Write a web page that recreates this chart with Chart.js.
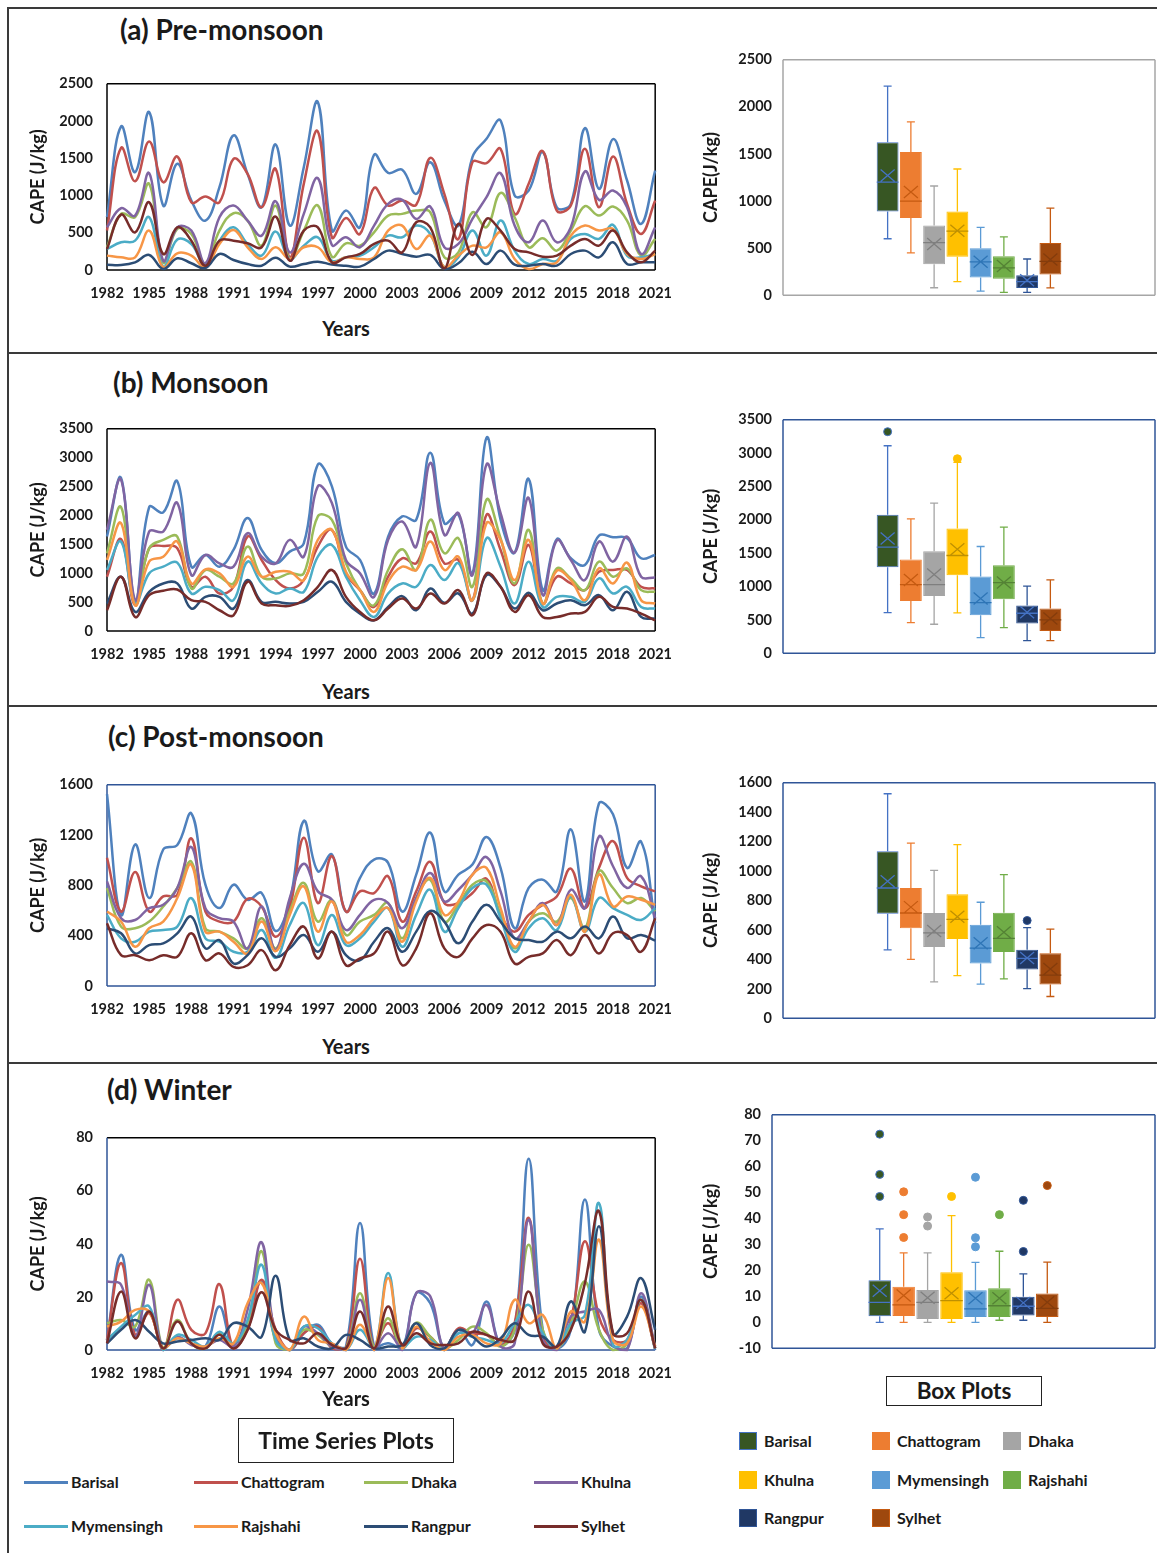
<!DOCTYPE html>
<html>
<head>
<meta charset="utf-8">
<script src="https://cdn.jsdelivr.net/npm/chart.js@4.4.1/dist/chart.umd.min.js"></script>
<style>
  body { margin: 0; background: #fff; }
  #page { position: relative; width: 1157px; height: 1553px; overflow: hidden; background: #fff;
          font-family: Lato, "Open Sans", sans-serif; font-weight: bold; color: #1a1a1a; }
  .abs { position: absolute; white-space: nowrap; }
  .rule { position: absolute; background: #3a3a3a; }
  .keybox { position: absolute; border: 1.5px solid #222; text-align: center; box-sizing: border-box; }
</style>
</head>
<body>
<div id="page"></div>
<script>
// Stations, in drawing / legend order
const stations = ['Barisal', 'Chattogram', 'Dhaka', 'Khulna', 'Mymensingh', 'Rajshahi', 'Rangpur', 'Sylhet'];
const years = ['1982','1983','1984','1985','1986','1987','1988','1989','1990','1991',
               '1992','1993','1994','1995','1996','1997','1998','1999','2000','2001',
               '2002','2003','2004','2005','2006','2007','2008','2009','2010','2011',
               '2012','2013','2014','2015','2016','2017','2018','2019','2020','2021'];

const lineColors = ['#4F81BD', '#C0504D', '#9BBB59', '#8064A2', '#4BACC6', '#F79646', '#2C4D75', '#772C2A'];
const boxFill = ['#375623', '#ED7D31', '#A5A5A5', '#FFC000', '#5B9BD5', '#70AD47', '#203864', '#9E480E'];
const boxEdge = ['#4472C4', '#ED7D31', '#A5A5A5', '#FFC000', '#5B9BD5', '#70AD47', '#2F5597', '#C55A11'];
const boxMark = ['#4472C4', '#C55A11', '#7F7F7F', '#BF9000', '#2E75B6', '#548235', '#4472C4', '#843C0C'];

// CAPE (J/kg) time series, one row per station (same order as `stations`)
const capePre = [
  [710,1926,1313,2119,865,1425,932,663,1111,1805, 1290,842,1684,596,1380,2253,529,797,573,1546, 1304,1344,1021,1447,932,596,1514,1761,2007,999, 1066,1581,842,887,1904,1089,1756,1201,618,1335],
  [530,1640,1192,1725,1178,1523,909,986,909,1492, 1290,842,1357,170,1156,1859,439,699,484,1102, 865,932,875,1505,1021,417,1447,1434,1626,753, 1156,1595,797,865,1626,842,1523,887,484,932],
  [305,753,708,1156,100,551,484,80,529,762, 663,327,865,148,529,865,179,358,327,506, 730,753,797,775,170,237,775,573,1035,708, 305,426,260,529,856,730,851,663,193,417],
  [573,829,730,1299,125,573,529,90,708,865, 663,461,923,237,753,1232,336,439,305,596, 887,941,685,851,305,349,685,977,1299,596, 372,663,372,573,1322,941,1066,842,215,573],
  [282,372,394,708,45,408,349,58,394,573, 349,193,515,148,327,439,125,170,193,305, 461,439,596,484,36,170,529,193,663,260, 80,148,125,417,484,417,605,193,170,215],
  [193,170,170,529,36,224,193,36,349,538, 305,148,305,148,305,305,103,170,148,170, 529,596,282,461,36,193,327,305,506,148, 13,80,103,461,596,529,551,215,148,215],
  [72,67,103,202,13,157,90,27,215,134, 80,58,166,45,80,112,72,58,45,148, 260,215,179,202,13,90,246,80,260,72, 58,80,58,215,260,170,372,80,103,103],
  [282,744,506,909,215,573,394,58,394,394, 358,305,717,125,529,573,103,170,215,349, 394,237,641,573,22,618,202,685,529,282, 237,179,193,327,417,327,529,237,103,260]
];
const capeMon = [
  [1634,2648,500,2144,2051,2590,1113,1315,1113,1402, 1953,1402,1171,1373,1518,2880,2503,1460,1229,649, 1634,1982,1924,3083,1866,2011,997,3344,1924,1356, 2631,707,1588,1258,1142,1652,1623,1605,1258,1316],
  [939,1588,446,1431,1472,1431,765,939,649,765, 1634,1229,881,736,881,1460,1750,997,707,417, 939,1258,1171,1721,1171,1229,533,2011,1402,794, 1489,475,939,823,707,1026,1055,1055,765,736],
  [1344,2144,504,1431,1576,1634,736,1055,939,823, 1460,939,910,997,997,1982,1924,1171,707,446, 1055,1414,1055,1924,1344,1605,765,2272,1605,823, 1750,475,1084,910,707,1200,939,1084,707,678],
  [1750,2619,533,1721,1721,2214,968,1315,1171,1113, 1692,1286,1171,1576,1286,2503,2214,1229,997,591, 1576,1895,1460,2909,1663,2040,968,2880,2040,1356, 2301,620,1565,1229,881,1547,1200,1634,939,927],
  [1055,1547,475,997,1113,1182,649,765,707,533, 1200,823,649,736,678,1286,1489,939,533,243, 649,823,765,1142,881,1171,533,1605,1113,475, 1200,417,591,591,504,910,649,765,417,388],
  [1229,1866,446,1200,1286,1547,823,1066,997,765, 1286,939,1026,1026,881,1576,1750,1026,707,330, 852,1113,1055,1547,1055,1286,533,1866,1576,881, 1576,475,1043,881,533,1084,823,1182,533,475],
  [475,939,330,678,823,823,388,591,591,388, 881,504,504,475,504,678,852,504,301,185, 417,603,359,736,487,649,301,968,765,388, 661,359,475,533,446,620,359,678,243,214],
  [359,939,243,620,695,719,533,504,359,272, 852,475,446,435,533,765,1055,591,330,185, 388,562,388,649,475,707,272,997,765,330, 620,243,243,301,330,591,417,388,301,185]
];
const capePost = [
  [1525,565,1125,699,1085,1120,1371,805,619,805, 685,739,437,672,1312,912,1045,592,859,1005, 979,592,885,1219,752,885,965,1184,939,459, 779,845,752,1245,672,1451,1365,939,1147,500],
  [1019,592,907,592,712,725,1173,592,512,512, 693,632,392,619,1179,659,1032,592,752,739, 872,512,752,987,659,659,739,853,565,432, 565,645,712,933,619,939,1152,859,792,752],
  [779,472,459,512,632,779,987,459,432,379, 299,539,299,592,819,512,685,405,512,565, 659,379,699,845,512,645,805,832,565,299, 512,579,512,699,459,912,779,659,699,592],
  [832,539,525,619,645,779,1104,619,539,512, 299,632,285,699,971,752,685,445,565,685, 659,459,699,899,672,765,885,1024,752,379, 512,659,485,765,619,1187,952,779,872,539],
  [565,379,352,432,445,472,699,379,352,272, 272,445,224,485,659,325,565,325,379,512, 619,312,565,765,432,619,779,805,539,272, 459,539,445,712,432,699,619,565,525,619],
  [592,512,312,459,512,699,965,432,432,352, 259,512,277,565,792,432,672,352,405,539, 619,352,672,859,565,672,885,939,619,312, 512,645,485,725,432,885,632,712,685,645],
  [459,419,259,325,339,419,552,299,365,179, 245,379,232,299,405,272,432,245,205,352, 459,272,432,597,512,339,512,645,512,379, 365,352,432,379,472,379,552,379,405,360],
  [499,245,245,205,245,232,419,205,259,152, 165,285,125,325,472,219,432,165,219,259, 432,165,299,579,299,232,379,485,432,179, 232,259,365,245,405,259,419,405,272,539]
];
const capeWin = [
  [3.8,35.9,7.6,14.5,0.6,4.4,2.5,1.3,16.4,0.6, 10.1,26,3.8,0,6.3,9.5,2.5,1.3,47.9,1.3, 2.5,0.6,21.4,17.6,0.6,7.6,1.9,18.3,1.9,7.6, 72.1,7.6,0.6,7.6,56.7,7.6,1.3,0.6,20.2,0],
  [3.8,32.8,5.7,13.9,0,18.9,7.6,6.3,24.8,0.6, 7.6,26.5,7.6,0,6.3,8.8,0.6,0.6,34.4,0.6, 10.1,0.6,8.2,5,0.6,8.2,6.3,5.7,1.9,10.1, 49.8,5,0.6,11.3,41,12.6,3.8,3.8,17.6,0.6],
  [10.1,11.3,8.8,26.5,0.6,11.3,2.5,0.6,6.3,2.5, 10.1,37.2,2.5,0,7.6,5.7,1.3,0.6,21.4,1.3, 12,0.6,10.3,5,0.6,3.8,8.8,6.3,1.3,7.6, 39.7,7.6,0.6,10.1,25.8,7.6,0,2.5,18.9,0.6],
  [25.8,24.6,5,24.6,0,5,1.9,1.3,3.8,1.3, 15.1,40.6,5,0,8.8,6.3,1.3,0,18.9,0, 6.3,0,21.4,20.2,0,6.3,6.3,17,1.3,2.5, 49.1,3.8,0,12.6,14.5,15.1,1.9,0,21.4,1.3],
  [3.8,8.8,13.2,16.4,0,5.7,3.8,1.3,6.9,2.5, 11.3,32.1,3.8,0,8.8,8.2,2.5,0,7.6,0, 29,0.6,5,3.8,0,6.3,5,3.8,2.5,10.1, 17,6.3,0.6,10.1,13.2,55.4,1.9,3.8,18.9,0.6],
  [8.8,10.7,15.1,14.5,0.6,4.4,2.5,1.3,4.4,2.5, 17.6,25.2,6.3,0,12.6,3.8,2.5,0,9.5,0, 27.1,0.6,8.8,3.2,0,5,5.7,2.5,2.5,18.9, 10.1,13.2,0.6,14.5,10.7,41.6,3.8,2.5,16.4,1.3],
  [2.5,7.6,11.3,6.9,2.5,3.2,3.8,4.4,3.8,10.1, 8.8,5,28,3.8,4.4,1.3,0.6,5.7,3.8,0.6, 1.3,1.9,10.1,1.9,0.6,7.6,5,1.3,4.4,10.1, 5.7,5,1.3,18.3,6.9,46.6,6.3,12.6,27.1,7.6],
  [2.5,22,4.4,14.5,0.6,10.7,2.5,0.6,5.7,0.6, 7.6,21.8,7.6,3.8,2.5,6.3,1.9,0.6,14.5,0.6, 16.4,1.9,6.3,2.5,1.9,2.5,6.9,5.7,3.8,3.8, 22,2.5,1.3,7.6,25.2,52.3,6.3,6.3,18.9,0.6]
];

// Box plot statistics per station: [min, q1, median, q3, max, mean]
const boxPre = [
  [600, 890, 1200, 1625, 2220, 1270], [450, 820, 1000, 1520, 1840, 1095],
  [80, 330, 560, 740, 1160, 545],     [145, 410, 680, 890, 1340, 685],
  [45, 190, 355, 500, 720, 355],      [30, 175, 290, 415, 620, 310],
  [30, 78, 145, 212, 385, 160],       [78, 222, 360, 556, 925, 380]
];
const outPre = [[], [], [], [], [], [], [], []];
const boxMon = [
  [610, 1290, 1590, 2075, 3110, 1720], [460, 785, 1030, 1405, 2015, 1100],
  [435, 860, 1030, 1530, 2250, 1180],  [605, 1170, 1465, 1870, 2860, 1560],
  [235, 570, 760, 1150, 1600, 820],    [385, 810, 1060, 1320, 1890, 1060],
  [190, 445, 600, 715, 1005, 615],     [190, 335, 500, 670, 1100, 520]
];
const outMon = [[3320], [], [], [2915], [], [], [], []];
const boxPost = [
  [465, 710, 885, 1135, 1525, 930], [400, 612, 715, 885, 1190, 755],
  [248, 484, 580, 715, 1005, 593],  [290, 538, 672, 843, 1180, 690],
  [232, 372, 477, 636, 788, 510],   [268, 450, 543, 716, 976, 584],
  [202, 332, 407, 466, 616, 410],   [148, 230, 293, 441, 605, 335]
];
const outPost = [[], [], [], [], [], [], [664], []];
const boxWin = [
  [0, 2.3, 7.7, 16.2, 36, 12.2],   [0, 2.4, 6.7, 13.7, 26.8, 10.3],
  [0, 1.3, 7.7, 12.5, 26.8, 9.5],  [0, 1.3, 8.4, 19.3, 41.1, 11.2],
  [0, 2.1, 5.2, 12.4, 23.1, 9.3],  [0.8, 2.1, 6.4, 13.1, 27.4, 9.3],
  [0.8, 2.6, 6.2, 9.9, 18.7, 7.5], [0, 2.1, 5.4, 11.1, 23.2, 7.7]
];
const outWin = [[48.5, 57, 72.5], [32.7, 41.5, 50.3], [37.1, 40.6], [48.5], [29.1, 32.6, 55.9], [41.5], [27.3, 47], [52.7]];

Chart.defaults.font.family = 'Lato, "Open Sans", sans-serif';
Chart.defaults.font.weight = 'bold';
Chart.defaults.color = '#1a1a1a';

const page = document.getElementById('page');

function addDiv(cls, css, text) {
  const d = document.createElement('div');
  d.className = cls;
  Object.assign(d.style, css);
  if (text !== undefined) d.textContent = text;
  page.appendChild(d);
  return d;
}
// text with its vertical centre at y
function addText(text, x, y, size) {
  return addDiv('abs', { left: x + 'px', top: (y - size * 0.6) + 'px', fontSize: size + 'px', lineHeight: (size * 1.2) + 'px' }, text);
}
function addCentred(text, cx, y, size) {
  return addDiv('abs', { left: (cx - 100) + 'px', width: '200px', textAlign: 'center',
                         top: (y - size * 0.6) + 'px', fontSize: size + 'px', lineHeight: (size * 1.2) + 'px' }, text);
}
function makeCanvas(left, top, w, h) {
  const holder = addDiv('abs', { left: left + 'px', top: top + 'px', width: w + 'px', height: h + 'px' });
  const cv = document.createElement('canvas');
  cv.width = w; cv.height = h;
  cv.style.width = w + 'px'; cv.style.height = h + 'px';
  holder.appendChild(cv);
  return cv;
}

// border round the plot area, one colour per side
const plotFrame = {
  id: 'plotFrame',
  beforeDatasetsDraw(chart, args, opts) {
    const { left, top, right, bottom } = chart.chartArea;
    const ctx = chart.ctx;
    const c = opts.colors;
    const sides = [[left, top, right, top, c[0]], [right, top, right, bottom, c[1]],
                   [left, bottom, right, bottom, c[2]], [left, top, left, bottom, c[3]]];
    ctx.save();
    ctx.lineWidth = 1.5;
    sides.forEach(([x1, y1, x2, y2, col]) => {
      ctx.strokeStyle = col;
      ctx.beginPath(); ctx.moveTo(x1, y1); ctx.lineTo(x2, y2); ctx.stroke();
    });
    ctx.restore();
  }
};

// whiskers, median, mean cross and outliers on top of the floating bars
const boxParts = {
  id: 'boxParts',
  afterDatasetsDraw(chart, args, opts) {
    const ctx = chart.ctx;
    const y = chart.scales.y;
    opts.stats.forEach((s, i) => {
      const bar = chart.getDatasetMeta(i).data[0];
      const x = bar.x, half = bar.width / 2;
      const py = v => y.getPixelForValue(v);
      ctx.save();
      ctx.lineWidth = 1.3;
      ctx.strokeStyle = boxEdge[i];
      ctx.beginPath();
      ctx.moveTo(x, py(s[3])); ctx.lineTo(x, py(s[4]));
      ctx.moveTo(x - 4, py(s[4])); ctx.lineTo(x + 4, py(s[4]));
      ctx.moveTo(x, py(s[1])); ctx.lineTo(x, py(s[0]));
      ctx.moveTo(x - 4, py(s[0])); ctx.lineTo(x + 4, py(s[0]));
      ctx.stroke();
      ctx.strokeStyle = boxMark[i];
      ctx.beginPath();
      ctx.moveTo(x - half, py(s[2])); ctx.lineTo(x + half, py(s[2]));
      const my = py(s[5]);
      ctx.moveTo(x - 7, my - 6); ctx.lineTo(x + 7, my + 6);
      ctx.moveTo(x - 7, my + 6); ctx.lineTo(x + 7, my - 6);
      ctx.stroke();
      ctx.fillStyle = boxFill[i];
      ctx.strokeStyle = boxEdge[i];
      ctx.lineWidth = 1;
      opts.outliers[i].forEach(v => {
        ctx.beginPath(); ctx.arc(x, py(v), 4, 0, Math.PI * 2); ctx.fill(); ctx.stroke();
      });
      ctx.restore();
    });
  }
};

const panels = [
  { title: '(a) Pre-monsoon', tx: 120, ty: 30, series: capePre, lineMax: 2500, lineStep: 500, lineTop: 84, lineBottom: 270, yearsY: 328,
    lineFrame: ['#000', '#000', '#000', '#000'],
    box: boxPre, out: outPre, boxMin: 0, boxMax: 2500, boxStep: 500, boxTop: 60, boxBottom: 295, boxLeft: 783,
    boxLabel: 'CAPE(J/kg)', boxFrame: '#A6A6A6' },
  { title: '(b) Monsoon', tx: 113, ty: 383, series: capeMon, lineMax: 3500, lineStep: 500, lineTop: 429, lineBottom: 631, yearsY: 691,
    lineFrame: ['#000', '#000', '#000', '#000'],
    box: boxMon, out: outMon, boxMin: 0, boxMax: 3500, boxStep: 500, boxTop: 420, boxBottom: 653, boxLeft: 783,
    boxLabel: 'CAPE (J/kg)', boxFrame: '#2F5597' },
  { title: '(c) Post-monsoon', tx: 108, ty: 737, series: capePost, lineMax: 1600, lineStep: 400, lineTop: 785, lineBottom: 986, yearsY: 1046,
    lineFrame: ['#2F5597', '#2F5597', '#2F5597', '#2F5597'],
    box: boxPost, out: outPost, boxMin: 0, boxMax: 1600, boxStep: 200, boxTop: 783, boxBottom: 1018, boxLeft: 783,
    boxLabel: 'CAPE (J/kg)', boxFrame: '#2F5597' },
  { title: '(d) Winter', tx: 107, ty: 1090, series: capeWin, lineMax: 80, lineStep: 20, lineTop: 1138, lineBottom: 1350, yearsY: 1398,
    lineFrame: ['#000', '#000', '#2F5597', '#2F5597'],
    box: boxWin, out: outWin, boxMin: -10, boxMax: 80, boxStep: 10, boxTop: 1115, boxBottom: 1348, boxLeft: 772,
    boxLabel: 'CAPE (J/kg)', boxFrame: '#2F5597' }
];

// the vertical axis keeps half a label plus its tick padding above and below the plot area
const LINE_PAD = 14, BOX_PAD = 11, TICK_FONT = 14.5;
const labelHalf = TICK_FONT * 1.2 / 2;

function lineChart(p) {
  const L = 20, W = 667, top = Math.round(p.lineTop - labelHalf - LINE_PAD), bottom = p.lineBottom + 45;
  const cv = makeCanvas(L, top, W, bottom - top);
  new Chart(cv, {
    type: 'line',
    data: {
      labels: years,
      datasets: stations.map((s, i) => ({
        label: s, data: p.series[i], borderColor: lineColors[i], borderWidth: 2.5,
        pointRadius: 0, tension: 0.4, fill: false, order: 7 - i, clip: 3
      }))
    },
    options: {
      responsive: false, animation: false,
      layout: { padding: 0 },
      plugins: { legend: { display: false }, tooltip: { enabled: false }, plotFrame: { colors: p.lineFrame } },
      scales: {
        x: {
          grid: { display: false, drawTicks: false }, border: { display: false },
          ticks: { autoSkip: false, maxRotation: 0, padding: 15, font: { size: TICK_FONT },
                   callback: (v, i) => (i % 3 === 0 ? years[i] : '') },
          afterFit: a => { a.height = bottom - p.lineBottom; }
        },
        y: {
          min: 0, max: p.lineMax,
          grid: { display: false, drawTicks: false }, border: { display: false },
          ticks: { stepSize: p.lineStep, padding: LINE_PAD, font: { size: TICK_FONT }, callback: v => String(v) },
          title: { display: true, text: 'CAPE (J/kg)', font: { size: 18 }, padding: { top: 7, bottom: 0 } },
          afterFit: a => { a.width = 107 - L; }
        }
      }
    },
    plugins: [plotFrame]
  });
  addCentred('Years', 346, p.yearsY, 20);
}

function boxChart(p) {
  const L = 690, W = 467;
  const top = Math.round(p.boxTop - labelHalf - BOX_PAD), bottom = Math.round(p.boxBottom + labelHalf + BOX_PAD);
  const cv = makeCanvas(L, top, W, bottom - top);
  new Chart(cv, {
    type: 'bar',
    data: {
      labels: [''],
      datasets: stations.map((s, i) => ({
        label: s, data: [[p.box[i][1], p.box[i][3]]],
        backgroundColor: boxFill[i], borderColor: boxEdge[i], borderWidth: 1, borderSkipped: false,
        categoryPercentage: 0.5, barPercentage: 0.94
      }))
    },
    options: {
      responsive: false, animation: false,
      layout: { padding: { top: 0, bottom: 0, left: 0, right: W - (1155 - L) } },
      plugins: {
        legend: { display: false }, tooltip: { enabled: false },
        plotFrame: { colors: [p.boxFrame, p.boxFrame, p.boxFrame, p.boxFrame] },
        boxParts: { stats: p.box, outliers: p.out }
      },
      scales: {
        x: { display: false },
        y: {
          min: p.boxMin, max: p.boxMax,
          grid: { display: false, drawTicks: false }, border: { display: false },
          ticks: { stepSize: p.boxStep, padding: BOX_PAD, font: { size: TICK_FONT }, callback: v => String(v) },
          title: { display: true, text: p.boxLabel, font: { size: 18 }, padding: { top: 10, bottom: 0 } },
          afterFit: a => { a.width = p.boxLeft - L; }
        }
      }
    },
    plugins: [plotFrame, boxParts]
  });
}

// outer frame and panel separators
addDiv('rule', { left: '7px', top: '7px', width: '1150px', height: '1.5px' });
addDiv('rule', { left: '7px', top: '7px', width: '1.5px', height: '1546px' });
[352, 705, 1062].forEach(y => addDiv('rule', { left: '7px', top: y + 'px', width: '1150px', height: '1.5px' }));

panels.forEach(p => {
  addText(p.title, p.tx, p.ty, 28);
  lineChart(p);
  boxChart(p);
});

// time series legend
addDiv('keybox', { left: '238px', top: '1418px', width: '216px', height: '45px', fontSize: '23px', lineHeight: '42px' }, 'Time Series Plots');
stations.forEach((s, i) => {
  const x = 24 + 170 * (i % 4), y = 1482 + 44 * Math.floor(i / 4);
  addDiv('abs', { left: x + 'px', top: (y - 1.5) + 'px', width: '44px', height: '3px', background: lineColors[i] });
  addText(s, x + 47, y, 16);
});

// box plot legend
addDiv('keybox', { left: '886px', top: '1376px', width: '156px', height: '30px', fontSize: '22.5px', lineHeight: '27px' }, 'Box Plots');
const keyCols = [739, 872, 1003], keyRows = [1441, 1480, 1518];
stations.forEach((s, i) => {
  const x = keyCols[i % 3], y = keyRows[Math.floor(i / 3)];
  addDiv('abs', { left: x + 'px', top: (y - 9) + 'px', width: '18px', height: '18px', background: boxFill[i],
                  boxSizing: 'border-box', border: '1.5px solid ' + boxEdge[i] });
  addText(s, x + 25, y, 16);
});
</script>
</body>
</html>
